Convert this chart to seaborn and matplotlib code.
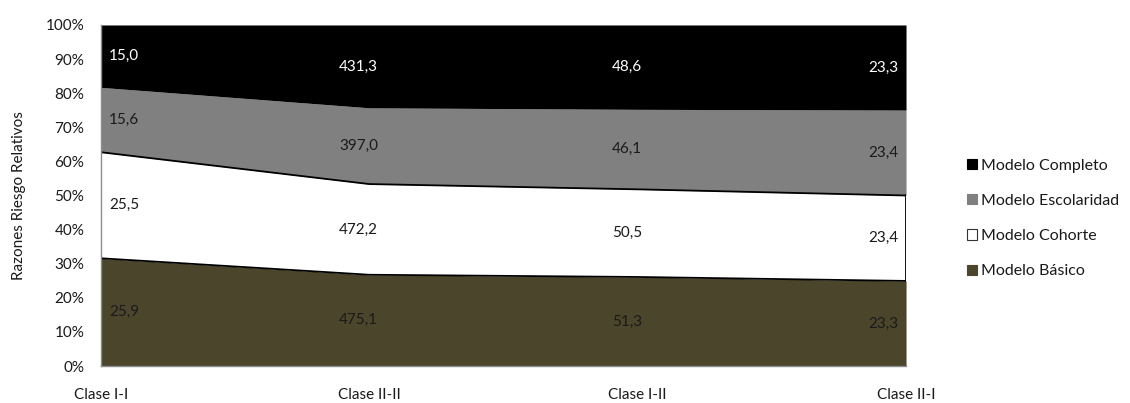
import numpy as np
import pandas as pd
import matplotlib
matplotlib.use("Agg")
import matplotlib.pyplot as plt
from matplotlib.patches import Patch
from matplotlib.ticker import PercentFormatter
import seaborn as sns

categories = ["Clase I-I", "Clase II-II", "Clase I-II", "Clase II-I"]
basico = [25.9, 475.1, 51.3, 23.3]
cohorte = [25.5, 472.2, 50.5, 23.4]
escolaridad = [15.6, 397.0, 46.1, 23.4]
completo = [15.0, 431.3, 48.6, 23.3]

series_names = ["Modelo Básico", "Modelo Cohorte", "Modelo Escolaridad", "Modelo Completo"]
colors = ["#4b452b", "#ffffff", "#808080", "#000000"]
label_colors = ["#1a1a1a", "#1a1a1a", "#1a1a1a", "#ffffff"]

sns.set_theme(style="white")
plt.rcParams["font.family"] = ["Lato", "DejaVu Sans"]

df = pd.DataFrame({
    "Clase": categories,
    series_names[0]: basico,
    series_names[1]: cohorte,
    series_names[2]: escolaridad,
    series_names[3]: completo,
})
vals = df[series_names].to_numpy(dtype=float)
shares = vals / vals.sum(axis=1, keepdims=True) * 100
cum = np.cumsum(shares, axis=1)
lower = np.hstack([np.zeros((len(categories), 1)), cum[:, :-1]])
x = np.arange(len(categories))

fig = plt.figure(figsize=(11.3, 4.03), dpi=100)
ax = fig.add_axes([0.0894, 0.0918, 0.7124, 0.8462])

for i in range(len(series_names)):
    ax.fill_between(x, lower[:, i], cum[:, i], color=colors[i], linewidth=0, zorder=1)

# outline of the Cohorte band
long = pd.DataFrame({
    "x": np.concatenate([x, x]),
    "y": np.concatenate([cum[:, 0], cum[:, 1]]),
    "edge": ["low"] * len(x) + ["high"] * len(x),
})
sns.lineplot(data=long, x="x", y="y", units="edge", estimator=None,
             color="black", linewidth=1.3, ax=ax, zorder=3, legend=False)
ax.plot([x[-1], x[-1]], [cum[-1, 0], cum[-1, 1]], color="black", linewidth=1.3, zorder=3)

# value labels centred in each band
for j in range(len(categories)):
    ha = "left" if j == 0 else ("right" if j == len(categories) - 1 else "center")
    xo = 0.03 if j == 0 else (-0.03 if j == len(categories) - 1 else -0.04)
    for i in range(len(series_names)):
        ymid = (lower[j, i] + cum[j, i]) / 2
        ax.text(x[j] + xo, ymid, f"{vals[j, i]:.1f}".replace(".", ","),
                ha=ha, va="center", fontsize=11, color=label_colors[i], zorder=4)

ax.set_xlim(0, 3)
ax.set_ylim(0, 100)
ax.set_yticks(np.arange(0, 101, 10))
ax.yaxis.set_major_formatter(PercentFormatter(decimals=0))
ax.set_xticks(x)
ax.set_xticklabels(categories)
ax.tick_params(axis="both", labelsize=11, colors="#1a1a1a", length=0)
ax.tick_params(axis="x", pad=16)
ax.tick_params(axis="y", pad=12)
ax.set_xlabel("")
ax.set_ylabel("Razones Riesgo Relativos", fontsize=11, color="#1a1a1a", labelpad=14)

for s in ["top", "right"]:
    ax.spines[s].set_visible(False)
for s in ["left", "bottom"]:
    ax.spines[s].set_color("#8c8c8c")
    ax.spines[s].set_linewidth(1.0)
    ax.spines[s].set_zorder(5)

handles = [Patch(facecolor=colors[i], edgecolor="#333333" if i == 1 else colors[i],
                 linewidth=0.8, label=series_names[i])
           for i in reversed(range(len(series_names)))]
fig.legend(handles=handles, loc="upper left", bbox_to_anchor=(0.843, 0.642),
           frameon=False, fontsize=11.5, handlelength=0.6, handleheight=0.6,
           handletextpad=0.3, labelspacing=1.33, labelcolor="#1a1a1a")

fig.savefig("out.png", dpi=100)
